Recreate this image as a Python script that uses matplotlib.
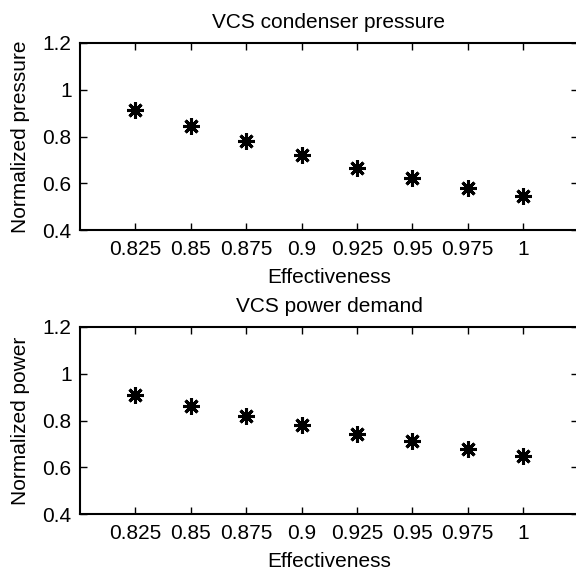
import matplotlib
matplotlib.use("Agg")
import matplotlib.pyplot as plt

effectiveness = [0.825, 0.85, 0.875, 0.9, 0.925, 0.95, 0.975, 1.0]
pressure = [0.914, 0.843, 0.779, 0.720, 0.667, 0.621, 0.581, 0.546]
power = [0.911, 0.861, 0.821, 0.781, 0.744, 0.711, 0.680, 0.650]
xtick_labels = ["0.825", "0.85", "0.875", "0.9", "0.925", "0.95", "0.975", "1"]
ytick_labels = ["0.4", "0.6", "0.8", "1", "1.2"]
yticks = [0.4, 0.6, 0.8, 1.0, 1.2]

plt.rcParams['font.family'] = ['Liberation Sans', 'DejaVu Sans']
plt.rcParams['font.size'] = 15

fig = plt.figure(figsize=(5.76, 5.76), dpi=100)
W = 576.0
# right spine sits right on the image edge, as in the reference
ax1 = fig.add_axes([80 / W, 1 - 230 / W, 498 / W, 187 / W])
ax2 = fig.add_axes([80 / W, 1 - 514 / W, 498 / W, 187 / W])

panels = [(ax1, pressure, "VCS condenser pressure", "Normalized pressure"),
          (ax2, power, "VCS power demand", "Normalized power")]

for ax, vals, title, ylabel in panels:
    ax.plot(effectiveness, vals, linestyle='none', marker=(8, 2, 0),
            markersize=12, markeredgewidth=2.2, color='black')
    ax.set_xlim(0.8, 1.0248)
    ax.set_ylim(0.4, 1.2)
    ax.set_xticks(effectiveness)
    ax.set_xticklabels(xtick_labels)
    ax.set_yticks(yticks)
    ax.set_yticklabels(ytick_labels)
    ax.tick_params(direction='in', length=5, width=1, top=True, right=True,
                   labelsize=15)
    ax.tick_params(axis='x', pad=7)
    ax.tick_params(axis='y', pad=6)
    for s in ax.spines.values():
        s.set_linewidth(1.5)
    ax.set_title(title, fontsize=15, pad=11)
    ax.set_xlabel("Effectiveness", fontsize=15, labelpad=7)
    ax.set_ylabel(ylabel, fontsize=15, labelpad=9)

fig.savefig("out.png", dpi=100)
